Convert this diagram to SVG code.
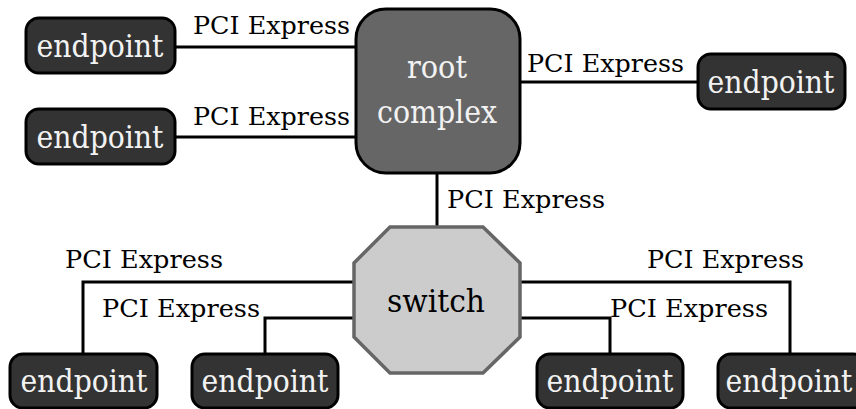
<svg xmlns="http://www.w3.org/2000/svg" width="856" height="409" viewBox="0 0 856 409">
<style>
text{font-family:'DejaVu Serif','Liberation Serif',serif}
.ep rect{fill:#333;stroke:#000;stroke-width:3}
.ep text{fill:#f2f2f2;font-size:31px;text-anchor:middle}
.lbl{fill:#000;font-size:25px}
.conn{fill:none;stroke:#000;stroke-width:3}
.big{font-size:32px;text-anchor:middle}
</style>
<rect width="856" height="409" fill="#fff"/>
<g id="connectors">
<path class="conn" d="M175,47 H356"/>
<path class="conn" d="M175,137 H356"/>
<path class="conn" d="M520,82 H698"/>
<path class="conn" d="M437,173 V227"/>
<path class="conn" d="M354,282 H83 V354"/>
<path class="conn" d="M354,318 H265 V354"/>
<path class="conn" d="M520,282 H790 V354"/>
<path class="conn" d="M520,318 H610 V354"/>
<text class="lbl" x="193" y="34" textLength="157" lengthAdjust="spacingAndGlyphs">PCI Express</text>
<text class="lbl" x="193" y="125" textLength="157" lengthAdjust="spacingAndGlyphs">PCI Express</text>
<text class="lbl" x="527" y="72" textLength="157" lengthAdjust="spacingAndGlyphs">PCI Express</text>
<text class="lbl" x="447" y="208" textLength="158" lengthAdjust="spacingAndGlyphs">PCI Express</text>
<text class="lbl" x="65" y="268" textLength="158" lengthAdjust="spacingAndGlyphs">PCI Express</text>
<text class="lbl" x="102" y="317" textLength="158" lengthAdjust="spacingAndGlyphs">PCI Express</text>
<text class="lbl" x="647" y="268" textLength="157" lengthAdjust="spacingAndGlyphs">PCI Express</text>
<text class="lbl" x="610" y="317" textLength="158" lengthAdjust="spacingAndGlyphs">PCI Express</text>
</g>
<g id="root">
<rect x="356" y="9" width="164" height="164" rx="30" fill="#666" stroke="#000" stroke-width="3"/>
<text class="big" x="437" y="78" fill="#f2f2f2" textLength="60" lengthAdjust="spacingAndGlyphs">root</text>
<text class="big" x="437" y="123" fill="#f2f2f2" textLength="120" lengthAdjust="spacingAndGlyphs">complex</text>
</g>
<g id="switch">
<polygon points="390,227 483,227 520,263 520,337 483,373 390,373 354,337 354,263" fill="#ccc" stroke="#666" stroke-width="3.5"/>
<text class="big" x="436" y="312" fill="#000" textLength="98" lengthAdjust="spacingAndGlyphs">switch</text>
</g>
<g id="ep1" class="ep"><rect x="26" y="18" width="149" height="55" rx="13"/><text x="100" y="57" textLength="127" lengthAdjust="spacingAndGlyphs">endpoint</text></g>
<g id="ep2" class="ep"><rect x="26" y="109" width="149" height="55" rx="13"/><text x="100" y="148" textLength="127" lengthAdjust="spacingAndGlyphs">endpoint</text></g>
<g id="ep3" class="ep"><rect x="698" y="54" width="147" height="55" rx="13"/><text x="771" y="93" textLength="127" lengthAdjust="spacingAndGlyphs">endpoint</text></g>
<g id="ep4" class="ep"><rect x="10" y="354" width="147" height="54" rx="13"/><text x="84" y="392" textLength="127" lengthAdjust="spacingAndGlyphs">endpoint</text></g>
<g id="ep5" class="ep"><rect x="192" y="354" width="146" height="54" rx="13"/><text x="265" y="392" textLength="127" lengthAdjust="spacingAndGlyphs">endpoint</text></g>
<g id="ep6" class="ep"><rect x="537" y="354" width="146" height="54" rx="13"/><text x="610" y="392" textLength="127" lengthAdjust="spacingAndGlyphs">endpoint</text></g>
<g id="ep7" class="ep"><rect x="718" y="354" width="148" height="54" rx="13"/><text x="789" y="392" textLength="127" lengthAdjust="spacingAndGlyphs">endpoint</text></g>
</svg>
